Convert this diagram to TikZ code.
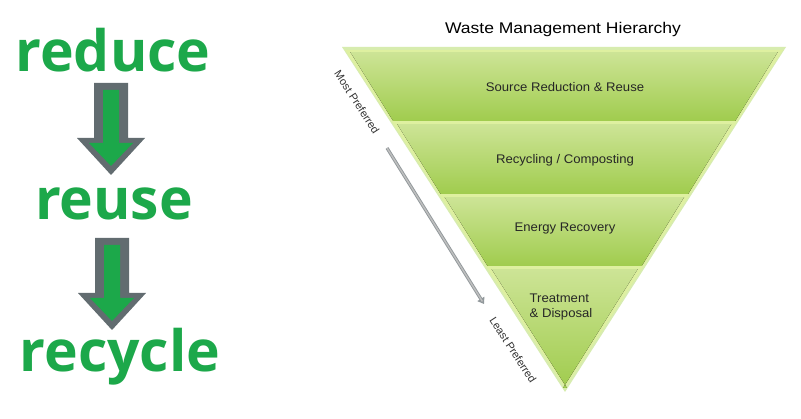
\documentclass[tikz,border=0pt]{standalone}
\usepackage{fontspec}
\setmainfont{Liberation Sans}
\newfontfamily\wordfont{Open Sans}
\usetikzlibrary{calc,arrows.meta}
\definecolor{wgreen}{RGB}{28,168,74}
\definecolor{agray}{RGB}{98,108,112}
\definecolor{bandtop}{RGB}{205,228,150}
\definecolor{bandbot}{RGB}{160,204,78}
\definecolor{glow}{RGB}{215,236,175}
\definecolor{sepcol}{RGB}{222,240,160}
\tikzset{
  word/.style={anchor=base, text=wgreen, font=\wordfont\bfseries\fontsize{57}{62}\selectfont, inner sep=0},
  bandlabel/.style={font=\fontsize{12.5}{15}\selectfont, text=black!85, inner sep=0, xscale=1.05},
  band/.style={top color=bandtop, bottom color=bandbot, draw=none},
  sidelabel/.style={font=\fontsize{11}{13}\selectfont, text=black!80, inner sep=0, rotate=-57},
  downarrow/.pic={
    \fill[agray] (-17,0) -- (17,0) -- (17,55) -- (34,55) -- (0,92) -- (-34,55) -- (-17,55) -- cycle;
    \fill[wgreen] (-8,7) -- (8,7) -- (8,60) -- (22,60) -- (0,83) -- (-22,60) -- (-8,60) -- cycle;
  }
}
\begin{document}
\begin{tikzpicture}[x=1pt,y=-1pt]
\useasboundingbox (0,0) rectangle (801,419);
\fill[white] (0,0) rectangle (801,419);
% left side
\node[word] (reduce) at (113,72) {reduce};
\node[word] (reuse) at (114,220) {reuse};
\node[word] (recycle) at (120,372) {recycle};
\pic at (111,83) {downarrow};
\pic at (112,238) {downarrow};
% triangle
\coordinate (TL) at (345,50);
\coordinate (TR) at (783,50);
\coordinate (B) at (565,388);
\fill[glow] ($(TL)+(-3,-3)$) -- ($(TR)+(3,-3)$) -- ($(B)+(0,4)$) -- cycle;
\fill[sepcol] (TL) -- (TR) -- (B) -- cycle;
\foreach \a/\b/\n in {0.006/0.210/1, 0.219/0.426/2, 0.435/0.639/3, 0.648/1/4}{
  \fill[band] ($(TL)!\a!(B)+(4,0)$) -- ($(TR)!\a!(B)+(-4,0)$) -- ($(TR)!\b!(B)+(-2,0)$) -- ($(TL)!\b!(B)+(2,0)$) -- cycle;
}
\node[font=\fontsize{15.5}{18}\selectfont, inner sep=0, xscale=1.13] (title) at (563,29) {Waste Management Hierarchy};
\node[bandlabel] (b1) at (565,87) {Source Reduction \& Reuse};
\node[bandlabel] (b2) at (565,160) {Recycling / Composting};
\node[bandlabel] (b3) at (565,228) {Energy Recovery};
\node[bandlabel, align=left] (b4) at (561,307) {Treatment\\\& Disposal};
% side labels
\node[sidelabel] (most) at (357,102) {Most Preferred};
\node[sidelabel] (least) at (513,350) {Least Preferred};
\coordinate (as) at (387,148);
\coordinate (ae) at (484,304);
\draw[agray!70, line width=3.2pt, -{Triangle[length=6pt,width=8pt]}] (as) -- (ae);
\draw[black!25, line width=1.4pt, shorten >=3pt] (as) -- (ae);
\end{tikzpicture}
\end{document}
